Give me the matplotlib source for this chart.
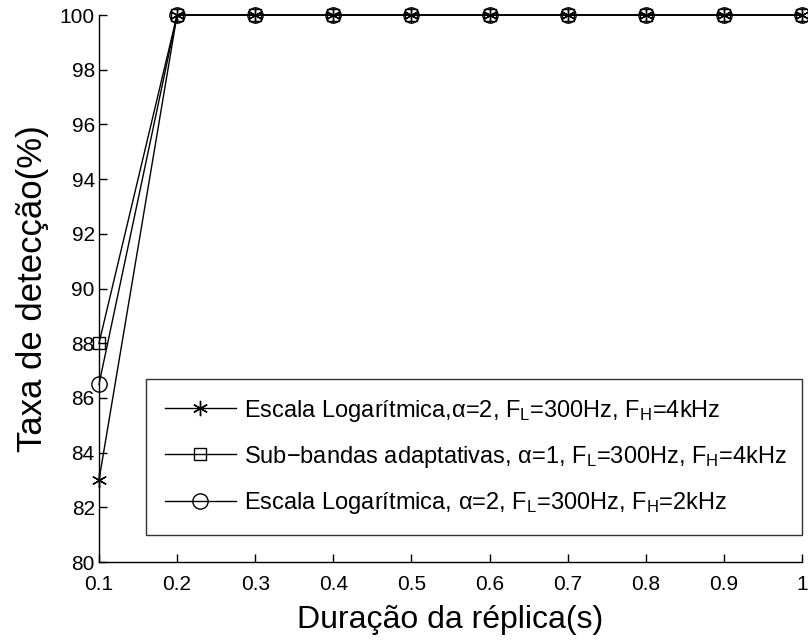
import numpy as np
import matplotlib
matplotlib.use("Agg")
import matplotlib.pyplot as plt

plt.rcParams['font.family'] = ['Liberation Sans', 'DejaVu Sans']
plt.rcParams['mathtext.fontset'] = 'custom'
plt.rcParams['mathtext.rm'] = 'Liberation Sans'
plt.rcParams['mathtext.it'] = 'Liberation Sans'

# data
duracao = [0.1, 0.2, 0.3, 0.4, 0.5, 0.6, 0.7, 0.8, 0.9, 1.0]
log_a2_4k = [83, 100, 100, 100, 100, 100, 100, 100, 100, 100]
sub_a1_4k = [88, 100, 100, 100, 100, 100, 100, 100, 100, 100]
log_a2_2k = [86.5, 100, 100, 100, 100, 100, 100, 100, 100, 100]

labels = [
    r'Escala Logarítmica,α=2, F$_L$=300Hz, F$_H$=4kHz',
    r'Sub−bandas adaptativas, α=1, F$_L$=300Hz, F$_H$=4kHz',
    r'Escala Logarítmica, α=2, F$_L$=300Hz, F$_H$=2kHz',
]

asterisk = (6, 2, 0)

fig = plt.figure(figsize=(8.08, 6.44), dpi=100)
ax = fig.add_axes([0.1225, 0.1273, 0.870, 0.8494])

ax.plot(duracao, log_a2_4k, color='black', lw=1, marker=asterisk, ms=11,
        mew=1, label=labels[0], clip_on=False)
ax.plot(duracao, sub_a1_4k, color='black', lw=1, marker='s', ms=9,
        mfc='none', mew=1, label=labels[1], clip_on=False)
ax.plot(duracao, log_a2_2k, color='black', lw=1, marker='o', ms=11,
        mfc='none', mew=1, label=labels[2], clip_on=False)

ax.set_xlim(0.1, 1.0)
ax.set_ylim(80, 100)
ax.set_xticks(np.arange(0.1, 1.01, 0.1))
ax.set_xticklabels(['0.1', '0.2', '0.3', '0.4', '0.5', '0.6', '0.7', '0.8', '0.9', '1'])
ax.set_yticks(np.arange(80, 101, 2))
ax.tick_params(direction='in', length=6, width=1, labelsize=15)
ax.tick_params(axis='x', pad=9)
ax.tick_params(axis='y', pad=3)
for s in ['top', 'right']:
    ax.spines[s].set_visible(False)
for s in ['left', 'bottom']:
    ax.spines[s].set_linewidth(1)

ax.set_xlabel('Duração da réplica(s)', fontsize=23, labelpad=8)
ax.set_ylabel('Taxa de detecção(%)', fontsize=25, labelpad=8)

leg = ax.legend(loc='upper left', bbox_to_anchor=(0.067, 0.335, 0.933, 0.0),
                mode='expand', fontsize=17, frameon=True, fancybox=False,
                edgecolor='black', handlelength=3.0, labelspacing=0.85,
                borderpad=0.8, handletextpad=0.35, borderaxespad=0)
leg.get_frame().set_linewidth(1)

fig.savefig('out.png', dpi=100)
